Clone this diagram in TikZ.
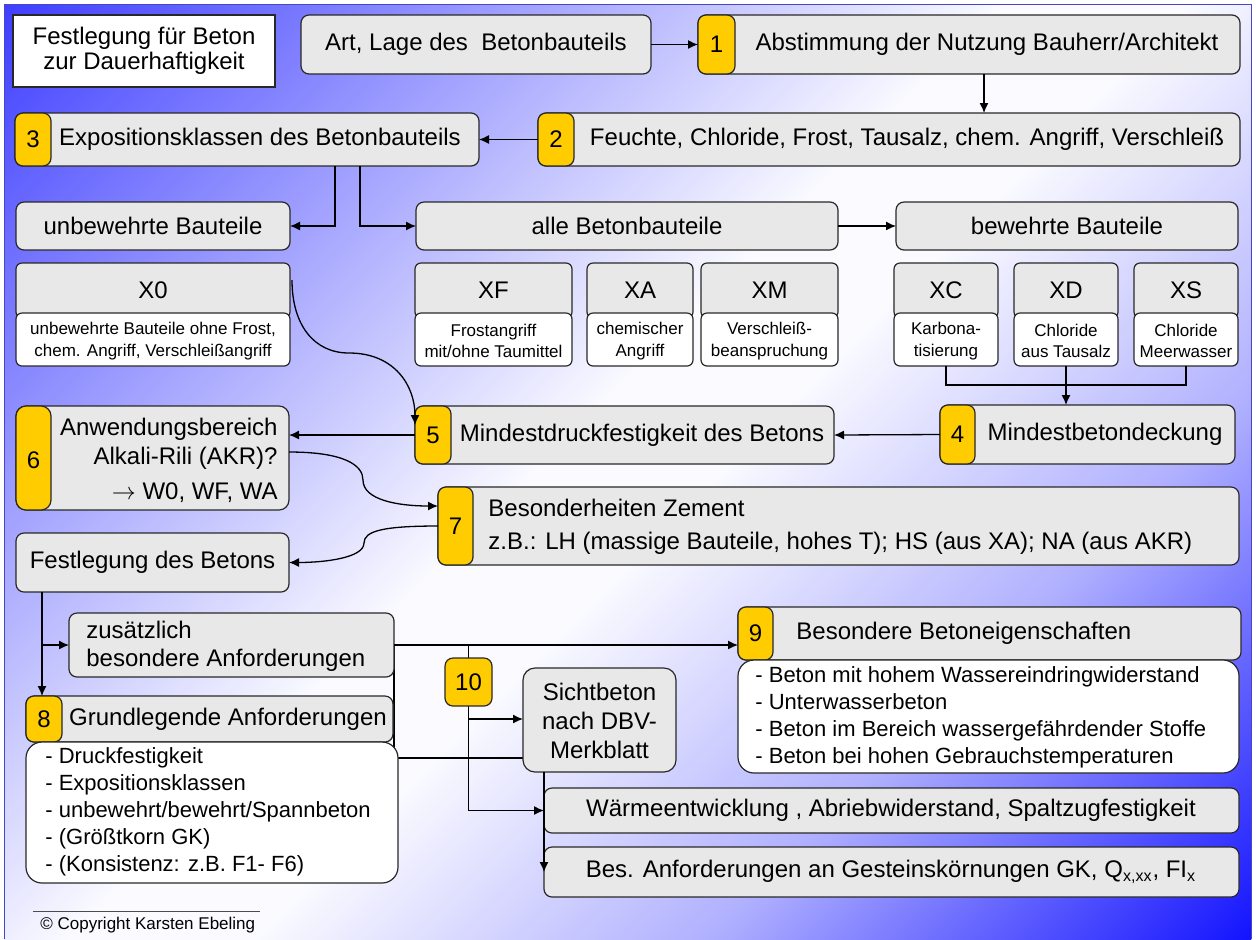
\documentclass[tikz,border=0pt]{standalone}
\usepackage{fontspec}
\setmainfont{Liberation Sans}
\usetikzlibrary{arrows.meta,calc}
\definecolor{boxgray}{RGB}{232,232,232}
\definecolor{tabyellow}{RGB}{255,204,0}
\definecolor{edge}{RGB}{40,40,40}
\definecolor{bgA}{RGB}{60,60,255}
\definecolor{bgB}{RGB}{165,165,255}
\definecolor{bgW}{RGB}{250,250,255}
\definecolor{bgD}{RGB}{175,175,255}
\definecolor{bgC}{RGB}{15,15,255}
\definecolor{framecol}{RGB}{70,70,200}
\pgfdeclarehorizontalshading{bgshade}{100bp}{color(0bp)=(bgA); color(14bp)=(bgA); color(32bp)=(bgB); color(47bp)=(bgW); color(53bp)=(bgW); color(68bp)=(bgD); color(86bp)=(bgC); color(100bp)=(bgC)}
\newcommand{\fmain}{\fontsize{12}{14}\selectfont}
\newcommand{\flist}{\fontsize{11}{13.5}\selectfont}
\newcommand{\fsmall}{\fontsize{8.5}{10.8}\selectfont}
\newcommand{\mkbox}[6]{\node[#1, minimum width={(#5-#3)*0.5pt}, minimum height={(#6-#4)*0.5pt}] (#2) at ({(#3+#5)/2},{(#4+#6)/2}) {};}
\newcommand{\xbox}[5]{%
  \mkbox{gbox, rounded corners=3pt}{#1g}{#2}{263}{#3}{318}
  \mkbox{wbox, rounded corners=3pt}{#1w}{#2}{313}{#3}{366}
  \node[txt] (#1l) at ({(#2+#3)/2},290) {#4};
  \node[txt, font=\fsmall, align=center] (#1d) at ({(#2+#3)/2},341) {#5};}
\begin{document}
\begin{tikzpicture}[x=0.5pt,y=-0.5pt,
  gbox/.style={draw=edge, fill=boxgray, rounded corners=4pt, line width=0.6pt, inner sep=0pt, outer sep=0pt},
  wbox/.style={draw=edge, fill=white, rounded corners=4pt, line width=0.6pt, inner sep=0pt, outer sep=0pt},
  lbox/.style={draw=edge, fill=white, rounded corners=8pt, line width=0.6pt, inner sep=0pt, outer sep=0pt},
  tbox/.style={draw=edge, fill=tabyellow, rounded corners=4pt, line width=0.6pt, inner sep=0pt, outer sep=0pt},
  titlebox/.style={draw=edge, fill=white, line width=0.6pt, inner sep=0pt, outer sep=0pt},
  txt/.style={inner sep=0pt, font=\fmain},
  conn/.style={draw=black, line width=0.65pt},
  arr/.style={conn, -{Latex[length=5pt,width=4.5pt]}},
]
\useasboundingbox (0,0) rectangle (1256,939);
\fill[white] (0,0) rectangle (1256,939);
\shade[shading=bgshade, shading angle=-45] (4,4) rectangle (1251,939);
\draw[framecol, line width=0.5pt] (4,939) -- (4,4) -- (1251,4) -- (1251,939);

% --- lines that pass behind boxes
\coordinate (zq) at (394,758);
\coordinate (tx) at (468.5,645);
\draw[conn] (394,645) -- (zq) -- (523,758);
\draw[conn] (tx) -- (468.5,811);

% --- boxes
\mkbox{titlebox}{title}{13}{15}{275}{87}
\node[txt, align=center, font=\fontsize{12}{12.5}\selectfont] (titlet) at (144,51) {Festlegung für Beton\\zur Dauerhaftigkeit};

\mkbox{gbox}{art}{301}{15}{651}{74}
\node[txt] (artt) at (476,44.5) {Art, Lage des\ \ Betonbauteils};

\mkbox{gbox}{b1}{698}{15}{1240}{74}
\mkbox{tbox}{tab1}{698}{15}{735}{74}
\node[txt] (n1) at (tab1) {1};
\node[txt] (b1t) at (987,44.5) {Abstimmung der Nutzung Bauherr/Architekt};

\mkbox{gbox}{b2}{538}{113}{1240}{166}
\mkbox{tbox}{tab2}{538}{113}{574}{166}
\node[txt] (n2) at (tab2) {2};
\node[txt] (b2t) at (907,139.5) {Feuchte, Chloride, Frost, Tausalz, chem. Angriff, Verschleiß};

\mkbox{gbox}{b3}{15}{113}{479}{166}
\mkbox{tbox}{tab3}{15}{113}{51}{166}
\node[txt] (n3) at (tab3) {3};
\node[txt] (b3t) at (260,139.5) {Expositionsklassen des Betonbauteils};

\mkbox{gbox}{unb}{16}{202}{290}{250}
\node[txt] (unbt) at (unb) {unbewehrte Bauteile};
\mkbox{gbox}{alle}{416}{202}{838}{250}
\node[txt] (allet) at (alle) {alle Betonbauteile};
\mkbox{gbox}{bew}{896}{202}{1238}{250}
\node[txt] (bewt) at (bew) {bewehrte Bauteile};

\xbox{xo}{16}{290}{X0}{unbewehrte Bauteile ohne Frost,\\chem. Angriff, Verschleißangriff}
\xbox{xf}{415}{572}{XF}{Frostangriff\\mit/ohne Taumittel}
\xbox{xa}{587}{693}{XA}{chemischer\\Angriff}
\xbox{xm}{701}{838}{XM}{Verschleiß-\\beanspruchung}
\xbox{xc}{894}{998}{XC}{Karbona-\\tisierung}
\xbox{xd}{1014}{1118}{XD}{Chloride\\aus Tausalz}
\xbox{xs}{1134}{1238}{XS}{Chloride\\Meerwasser}

\mkbox{gbox}{b4}{940}{405}{1235}{464}
\mkbox{tbox}{tab4}{940}{405}{975}{464}
\node[txt] (n4) at (tab4) {4};
\node[txt] (b4t) at (1105,434.5) {Mindestbetondeckung};

\mkbox{gbox}{b5}{415}{406}{834}{464}
\mkbox{tbox}{tab5}{415}{406}{451}{464}
\node[txt] (n5) at (tab5) {5};
\node[txt] (b5t) at (642,435) {Mindestdruckfestigkeit des Betons};

\mkbox{gbox, rounded corners=5pt}{b6}{16}{406}{289}{510}
\mkbox{tbox, rounded corners=5pt}{tab6}{16}{406}{51}{510}
\node[txt] (n6) at (33.5,460) {6};
\node[txt, align=right, anchor=east, font=\fontsize{12}{14.5}\selectfont] (b6t) at (278,460) {Anwendungsbereich\\Alkali-Rili (AKR)?\\[3pt]$\rightarrow$ W0, WF, WA};

\mkbox{gbox}{b7}{438}{487}{1239}{565}
\mkbox{tbox}{tab7}{438}{487}{473}{565}
\node[txt] (n7) at (tab7) {7};
\node[txt, align=left, anchor=west, font=\fontsize{12}{16.5}\selectfont] (b7t) at (488,526.5) {Besonderheiten Zement\\z.B.: LH (massige Bauteile, hohes T); HS (aus XA); NA (aus AKR)};

\mkbox{gbox}{fest}{16}{533}{289}{592}
\node[txt] (festt) at (fest) {Festlegung des Betons};

\mkbox{gbox}{zus}{69}{613}{394}{677}
\node[txt, align=left, anchor=west, font=\fontsize{12}{14}\selectfont] (zust) at (86,646) {zusätzlich\\besondere Anforderungen};

\mkbox{gbox}{b8}{26}{696}{393}{742}
\mkbox{tbox}{tab8}{26}{696}{62}{742}
\node[txt] (n8) at (tab8) {8};
\node[txt] (b8t) at (228,719) {Grundlegende Anforderungen};
\mkbox{lbox}{l8}{26}{742}{398}{883}
\node[txt, align=left, anchor=west, font=\flist] (l8t) at (45,812) {- Druckfestigkeit\\- Expositionsklassen\\- unbewehrt/bewehrt/Spannbeton\\- (Größtkorn GK)\\- (Konsistenz: z.B. F1- F6)};

\mkbox{gbox}{b9}{738}{607}{1241}{660}
\mkbox{tbox}{tab9}{738}{607}{773}{660}
\node[txt] (n9) at (tab9) {9};
\node[txt, anchor=west] (b9t) at (796,633.5) {Besondere Betoneigenschaften};
\mkbox{lbox}{l9}{738}{660}{1239}{773}
\node[txt, align=left, anchor=west, font=\flist] (l9t) at (755,717) {- Beton mit hohem Wassereindringwiderstand\\- Unterwasserbeton\\- Beton im Bereich wassergefährdender Stoffe\\- Beton bei hohen Gebrauchstemperaturen};

\mkbox{tbox}{ten}{445}{658}{492}{706}
\node[txt] (n10) at (ten) {10};

\mkbox{gbox, rounded corners=6pt}{sicht}{523}{668}{676}{772}
\node[txt, align=center, font=\fontsize{12}{14.5}\selectfont] (sichtt) at (599.5,721) {Sichtbeton\\nach DBV-\\Merkblatt};

\mkbox{gbox}{warm}{544}{788}{1239}{833}
\node[txt] (warmt) at (891,810.5) {Wärmeentwicklung , Abriebwiderstand, Spaltzugfestigkeit};
\mkbox{gbox}{bes}{544}{847}{1239}{897}
\node[txt] (best) at (891,872) {Bes. Anforderungen an Gesteinskörnungen GK, Q\textsubscript{x,xx}, FI\textsubscript{x}};

% --- copyright
\node[inner sep=0pt, anchor=west, font=\fontsize{8.5}{10}\selectfont] (copy) at (40,925) {© Copyright Karsten Ebeling};
\draw[black!70, line width=0.5pt] (33,911) -- (260,911);

% --- connectors
\draw[arr] (art.east) -- (b1.west);
\coordinate (p1) at ($(b1.south)+(15,0)$);
\draw[arr] (p1) -- (p1 |- b2.north);
\draw[arr] (b2.west) -- (b3.east);
\coordinate (p2) at ($(b3.south)+(88,0)$);
\coordinate (p3) at ($(b3.south)+(113,0)$);
\draw[arr] (p2) |- (unb.east);
\draw[arr] (p3) |- (alle.west);
\draw[arr] (alle.east) -- (bew.west);
\coordinate (p4) at ($(xsw.south)+(0,19)$);
\draw[conn] (xcw.south) |- (p4) -- (xsw.south);
\draw[arr] (xdw.south) -- (xdw.south |- b4.north);
\draw[arr] (b4.west) -- (b5.east);
\draw[arr] (b5.west) -- (b5.west -| b6.east);
\coordinate (c1s) at ($(xog.north east)+(2,17)$);
\coordinate (c1e) at ($(b5.north west)+(0,19)$);
\draw[arr] (c1s) .. controls +(0,45) and +(-35,0) .. ++(57,73) .. controls +(45,0) and +(0,-40) .. (c1e);
\coordinate (c2s) at ($(b6.east)+(0,-6)$);
\coordinate (c2e) at ($(b7.north west)+(0,19)$);
\draw[arr] (c2s) .. controls +(55,0) and +(0,-15) .. ++(74,28) .. controls +(0,20) and +(-40,0) .. (c2e);
\draw[arr] (b7.west) .. controls +(-55,0) and +(0,-12) .. ++(-74,17) .. controls +(0,15) and +(35,0) .. (fest.east);
\coordinate (p5) at ($(fest.south west)+(26,0)$);
\draw[arr] (p5) -- (p5 |- b8.north);
\draw[arr] (p5 |- zus.west) -- (zus.west);
\draw[arr] (zus.east) -- (zus.east -| b9.west);
\coordinate (p7) at ($(ten.south)+(0,13)$);
\draw[arr] (p7) -- (p7 -| sicht.west);
\draw[arr] (ten.center |- warm.west) -- (warm.west);
\coordinate (p6) at ($(sicht.south west)+(21,0)$);
\draw[arr] (p6) -- (p6 |- bes.west);
\end{tikzpicture}
\end{document}
